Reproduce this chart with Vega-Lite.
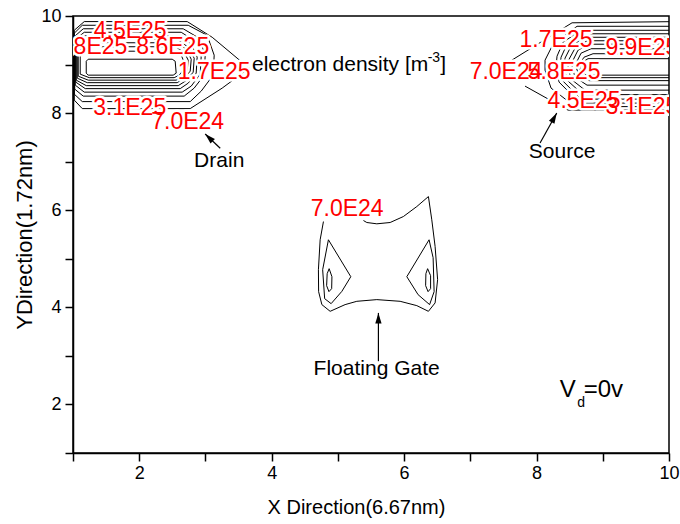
{
  "$schema": "https://vega.github.io/schema/vega-lite/v6.json",
  "width": 596,
  "height": 437,
  "autosize": {"type": "none"},
  "padding": {"left": 73, "top": 16, "right": 11, "bottom": 71},
  "background": "white",
  "config": {
    "font": "Liberation Sans",
    "view": {"stroke": "black", "strokeWidth": 1.5},
    "axis": {"labelFont": "Liberation Sans", "titleFont": "Liberation Sans", "domainColor": "black", "tickColor": "black", "labelColor": "black", "titleColor": "black", "grid": false, "domainWidth": 1.5, "tickWidth": 1.5, "tickSize": 8, "titleFontWeight": "normal"}
  },
  "datasets": {
    "contours": [
      {"c":"D1","o":0,"x":1.019,"y":9.706},{"c":"D1","o":1,"x":1.170,"y":9.885},{"c":"D1","o":2,"x":2.725,"y":9.885},{"c":"D1","o":3,"x":3.102,"y":9.562},{"c":"D1","o":4,"x":3.660,"y":8.925},{"c":"D1","o":5,"x":3.253,"y":8.515},{"c":"D1","o":6,"x":2.770,"y":8.093},{"c":"D1","o":7,"x":1.140,"y":8.093},{"c":"D1","o":8,"x":1.019,"y":8.268},{"c":"D1","o":9,"x":1.019,"y":9.706},
      {"c":"D2","o":0,"x":1.019,"y":9.645},{"c":"D2","o":1,"x":1.140,"y":9.809},{"c":"D2","o":2,"x":2.740,"y":9.809},{"c":"D2","o":3,"x":3.026,"y":9.603},{"c":"D2","o":4,"x":3.132,"y":9.193},{"c":"D2","o":5,"x":3.117,"y":8.782},{"c":"D2","o":6,"x":2.936,"y":8.453},{"c":"D2","o":7,"x":2.770,"y":8.237},{"c":"D2","o":8,"x":1.140,"y":8.237},{"c":"D2","o":9,"x":1.019,"y":8.391},{"c":"D2","o":10,"x":1.019,"y":9.645},
      {"c":"D3","o":0,"x":1.026,"y":9.583},{"c":"D3","o":1,"x":1.155,"y":9.737},{"c":"D3","o":2,"x":2.664,"y":9.737},{"c":"D3","o":3,"x":2.906,"y":9.542},{"c":"D3","o":4,"x":2.996,"y":9.193},{"c":"D3","o":5,"x":2.981,"y":8.782},{"c":"D3","o":6,"x":2.830,"y":8.515},{"c":"D3","o":7,"x":2.679,"y":8.350},{"c":"D3","o":8,"x":1.155,"y":8.350},{"c":"D3","o":9,"x":1.026,"y":8.494},{"c":"D3","o":10,"x":1.026,"y":9.583},
      {"c":"D4","o":0,"x":1.034,"y":9.521},{"c":"D4","o":1,"x":1.170,"y":9.665},{"c":"D4","o":2,"x":2.634,"y":9.665},{"c":"D4","o":3,"x":2.845,"y":9.480},{"c":"D4","o":4,"x":2.936,"y":9.172},{"c":"D4","o":5,"x":2.921,"y":8.802},{"c":"D4","o":6,"x":2.785,"y":8.556},{"c":"D4","o":7,"x":2.649,"y":8.432},{"c":"D4","o":8,"x":1.170,"y":8.432},{"c":"D4","o":9,"x":1.034,"y":8.576},{"c":"D4","o":10,"x":1.034,"y":9.521},
      {"c":"D5","o":0,"x":1.042,"y":9.460},{"c":"D5","o":1,"x":1.185,"y":9.593},{"c":"D5","o":2,"x":2.604,"y":9.593},{"c":"D5","o":3,"x":2.785,"y":9.419},{"c":"D5","o":4,"x":2.875,"y":9.151},{"c":"D5","o":5,"x":2.860,"y":8.823},{"c":"D5","o":6,"x":2.740,"y":8.617},{"c":"D5","o":7,"x":2.619,"y":8.504},{"c":"D5","o":8,"x":1.185,"y":8.504},{"c":"D5","o":9,"x":1.042,"y":8.638},{"c":"D5","o":10,"x":1.042,"y":9.460},
      {"c":"D6","o":0,"x":1.049,"y":9.398},{"c":"D6","o":1,"x":1.200,"y":9.521},{"c":"D6","o":2,"x":2.574,"y":9.521},{"c":"D6","o":3,"x":2.740,"y":9.357},{"c":"D6","o":4,"x":2.830,"y":9.131},{"c":"D6","o":5,"x":2.815,"y":8.843},{"c":"D6","o":6,"x":2.709,"y":8.669},{"c":"D6","o":7,"x":2.589,"y":8.566},{"c":"D6","o":8,"x":1.200,"y":8.566},{"c":"D6","o":9,"x":1.049,"y":8.679},{"c":"D6","o":10,"x":1.049,"y":9.398},
      {"c":"D7","o":0,"x":1.064,"y":9.336},{"c":"D7","o":1,"x":1.215,"y":9.449},{"c":"D7","o":2,"x":2.558,"y":9.449},{"c":"D7","o":3,"x":2.709,"y":9.316},{"c":"D7","o":4,"x":2.785,"y":9.110},{"c":"D7","o":5,"x":2.770,"y":8.864},{"c":"D7","o":6,"x":2.679,"y":8.720},{"c":"D7","o":7,"x":2.574,"y":8.627},{"c":"D7","o":8,"x":1.215,"y":8.627},{"c":"D7","o":9,"x":1.064,"y":8.720},{"c":"D7","o":10,"x":1.064,"y":9.336},
      {"c":"D8","o":0,"x":1.079,"y":9.275},{"c":"D8","o":1,"x":1.230,"y":9.367},{"c":"D8","o":2,"x":2.543,"y":9.367},{"c":"D8","o":3,"x":2.679,"y":9.254},{"c":"D8","o":4,"x":2.740,"y":9.090},{"c":"D8","o":5,"x":2.725,"y":8.884},{"c":"D8","o":6,"x":2.649,"y":8.761},{"c":"D8","o":7,"x":2.558,"y":8.679},{"c":"D8","o":8,"x":1.230,"y":8.679},{"c":"D8","o":9,"x":1.079,"y":8.761},{"c":"D8","o":10,"x":1.079,"y":9.275},
      {"c":"D9","o":0,"x":1.109,"y":9.193},{"c":"D9","o":1,"x":1.245,"y":9.275},{"c":"D9","o":2,"x":2.528,"y":9.275},{"c":"D9","o":3,"x":2.634,"y":9.193},{"c":"D9","o":4,"x":2.679,"y":9.049},{"c":"D9","o":5,"x":2.664,"y":8.884},{"c":"D9","o":6,"x":2.604,"y":8.782},{"c":"D9","o":7,"x":2.528,"y":8.730},{"c":"D9","o":8,"x":1.245,"y":8.730},{"c":"D9","o":9,"x":1.109,"y":8.802},{"c":"D9","o":10,"x":1.109,"y":9.193},
      {"c":"D10","o":0,"x":1.200,"y":9.069},{"c":"D10","o":1,"x":1.230,"y":9.110},{"c":"D10","o":2,"x":2.498,"y":9.110},{"c":"D10","o":3,"x":2.543,"y":9.069},{"c":"D10","o":4,"x":2.558,"y":8.823},{"c":"D10","o":5,"x":2.513,"y":8.782},{"c":"D10","o":6,"x":1.230,"y":8.782},{"c":"D10","o":7,"x":1.200,"y":8.823},{"c":"D10","o":8,"x":1.200,"y":9.069},
      {"c":"S1a","o":0,"x":10,"y":9.883},{"c":"S1a","o":1,"x":8.536,"y":9.860},{"c":"S1a","o":2,"x":7.626,"y":9.090},
      {"c":"S1b","o":0,"x":7.826,"y":8.556},{"c":"S1b","o":1,"x":8.475,"y":8.062},{"c":"S1b","o":2,"x":10,"y":8.062},
      {"c":"S2","o":0,"x":10,"y":9.788},{"c":"S2","o":1,"x":8.611,"y":9.788},{"c":"S2","o":2,"x":8.249,"y":9.419},{"c":"S2","o":3,"x":8.128,"y":9.090},{"c":"S2","o":4,"x":8.128,"y":8.884},{"c":"S2","o":5,"x":8.219,"y":8.515},{"c":"S2","o":6,"x":8.581,"y":8.134},{"c":"S2","o":7,"x":10,"y":8.134},
      {"c":"S3","o":0,"x":10,"y":9.706},{"c":"S3","o":1,"x":8.672,"y":9.706},{"c":"S3","o":2,"x":8.400,"y":9.460},{"c":"S3","o":3,"x":8.309,"y":9.172},{"c":"S3","o":4,"x":8.294,"y":8.946},{"c":"S3","o":5,"x":8.340,"y":8.638},{"c":"S3","o":6,"x":8.657,"y":8.206},{"c":"S3","o":7,"x":10,"y":8.206},
      {"c":"S4","o":0,"x":10,"y":9.634},{"c":"S4","o":1,"x":8.702,"y":9.634},{"c":"S4","o":2,"x":8.460,"y":9.419},{"c":"S4","o":3,"x":8.370,"y":9.151},{"c":"S4","o":4,"x":8.355,"y":8.946},{"c":"S4","o":5,"x":8.400,"y":8.658},{"c":"S4","o":6,"x":8.672,"y":8.288},{"c":"S4","o":7,"x":10,"y":8.288},
      {"c":"S5","o":0,"x":10,"y":9.562},{"c":"S5","o":1,"x":8.732,"y":9.562},{"c":"S5","o":2,"x":8.521,"y":9.378},{"c":"S5","o":3,"x":8.430,"y":9.131},{"c":"S5","o":4,"x":8.415,"y":8.946},{"c":"S5","o":5,"x":8.460,"y":8.679},{"c":"S5","o":6,"x":8.702,"y":8.381},{"c":"S5","o":7,"x":10,"y":8.381},
      {"c":"S6","o":0,"x":10,"y":9.490},{"c":"S6","o":1,"x":8.762,"y":9.490},{"c":"S6","o":2,"x":8.581,"y":9.336},{"c":"S6","o":3,"x":8.491,"y":9.110},{"c":"S6","o":4,"x":8.475,"y":8.946},{"c":"S6","o":5,"x":8.521,"y":8.699},{"c":"S6","o":6,"x":8.732,"y":8.473},{"c":"S6","o":7,"x":10,"y":8.473},
      {"c":"S7","o":0,"x":10,"y":9.419},{"c":"S7","o":1,"x":8.792,"y":9.419},{"c":"S7","o":2,"x":8.626,"y":9.295},{"c":"S7","o":3,"x":8.551,"y":9.090},{"c":"S7","o":4,"x":8.536,"y":8.946},{"c":"S7","o":5,"x":8.581,"y":8.741},{"c":"S7","o":6,"x":8.762,"y":8.576},{"c":"S7","o":7,"x":10,"y":8.576},
      {"c":"S8","o":0,"x":10,"y":9.326},{"c":"S8","o":1,"x":8.823,"y":9.326},{"c":"S8","o":2,"x":8.672,"y":9.234},{"c":"S8","o":3,"x":8.611,"y":9.069},{"c":"S8","o":4,"x":8.596,"y":8.946},{"c":"S8","o":5,"x":8.642,"y":8.782},{"c":"S8","o":6,"x":8.792,"y":8.669},{"c":"S8","o":7,"x":10,"y":8.669},
      {"c":"S9","o":0,"x":10,"y":9.223},{"c":"S9","o":1,"x":8.853,"y":9.223},{"c":"S9","o":2,"x":8.717,"y":9.151},{"c":"S9","o":3,"x":8.657,"y":9.028},{"c":"S9","o":4,"x":8.657,"y":8.864},{"c":"S9","o":5,"x":8.717,"y":8.771},{"c":"S9","o":6,"x":8.838,"y":8.730},{"c":"S9","o":7,"x":10,"y":8.730},
      {"c":"S10","o":0,"x":10,"y":9.121},{"c":"S10","o":1,"x":8.777,"y":9.121},{"c":"S10","o":2,"x":8.717,"y":9.069},{"c":"S10","o":3,"x":8.702,"y":8.967},{"c":"S10","o":4,"x":8.702,"y":8.843},{"c":"S10","o":5,"x":8.747,"y":8.782},{"c":"S10","o":6,"x":10,"y":8.782},
      {"c":"G0","o":0,"x":4.782,"y":5.767},{"c":"G0","o":1,"x":4.732,"y":5.391},{"c":"G0","o":2,"x":4.706,"y":4.775},{"c":"G0","o":3,"x":4.709,"y":4.323},{"c":"G0","o":4,"x":4.758,"y":4.056},{"c":"G0","o":5,"x":4.883,"y":3.918},{"c":"G0","o":6,"x":5.109,"y":4.056},{"c":"G0","o":7,"x":5.286,"y":4.124},{"c":"G0","o":8,"x":5.588,"y":4.159},{"c":"G0","o":9,"x":5.940,"y":4.124},{"c":"G0","o":10,"x":6.192,"y":4.035},{"c":"G0","o":11,"x":6.367,"y":3.918},{"c":"G0","o":12,"x":6.468,"y":4.091},{"c":"G0","o":13,"x":6.506,"y":4.570},{"c":"G0","o":14,"x":6.468,"y":5.254},{"c":"G0","o":15,"x":6.418,"y":5.802},{"c":"G0","o":16,"x":6.367,"y":6.281},{"c":"G0","o":17,"x":6.192,"y":6.076},{"c":"G0","o":18,"x":5.989,"y":5.870},{"c":"G0","o":19,"x":5.789,"y":5.747},{"c":"G0","o":20,"x":5.588,"y":5.720},{"c":"G0","o":21,"x":5.437,"y":5.747},{"c":"G0","o":22,"x":5.386,"y":5.788},
      {"c":"GL1","o":0,"x":4.857,"y":5.391},{"c":"GL1","o":1,"x":5.195,"y":4.631},{"c":"GL1","o":2,"x":5.060,"y":4.329},{"c":"GL1","o":3,"x":4.898,"y":4.076},{"c":"GL1","o":4,"x":4.800,"y":4.179},{"c":"GL1","o":5,"x":4.770,"y":4.775},{"c":"GL1","o":6,"x":4.857,"y":5.391},
      {"c":"GL2","o":0,"x":4.868,"y":4.796},{"c":"GL2","o":1,"x":4.910,"y":4.631},{"c":"GL2","o":2,"x":4.906,"y":4.385},{"c":"GL2","o":3,"x":4.865,"y":4.323},{"c":"GL2","o":4,"x":4.830,"y":4.446},{"c":"GL2","o":5,"x":4.838,"y":4.693},{"c":"GL2","o":6,"x":4.868,"y":4.796},
      {"c":"GR1","o":0,"x":6.377,"y":5.391},{"c":"GR1","o":1,"x":6.041,"y":4.631},{"c":"GR1","o":2,"x":6.211,"y":4.261},{"c":"GR1","o":3,"x":6.385,"y":4.056},{"c":"GR1","o":4,"x":6.453,"y":4.323},{"c":"GR1","o":5,"x":6.438,"y":5.022},{"c":"GR1","o":6,"x":6.377,"y":5.391},
      {"c":"GR2","o":0,"x":6.355,"y":4.796},{"c":"GR2","o":1,"x":6.400,"y":4.652},{"c":"GR2","o":2,"x":6.400,"y":4.385},{"c":"GR2","o":3,"x":6.362,"y":4.323},{"c":"GR2","o":4,"x":6.325,"y":4.446},{"c":"GR2","o":5,"x":6.329,"y":4.693},{"c":"GR2","o":6,"x":6.355,"y":4.796}
    ],
    "levels": [
      {"t":"4.5E25","x":1.864,"y":9.686},
      {"t":"5.8E25","x":1.270,"y":9.367},
      {"t":"8.6E25","x":2.506,"y":9.367},
      {"t":"1.7E25","x":3.132,"y":8.843},
      {"t":"3.1E25","x":1.857,"y":8.114},
      {"t":"7.0E24","x":2.732,"y":7.826},
      {"t":"1.7E25","x":8.294,"y":9.501},
      {"t":"9.9E25","x":9.590,"y":9.336},
      {"t":"7.0E24","x":7.540,"y":8.843},
      {"t":"5.8E25","x":8.415,"y":8.843},
      {"t":"4.5E25","x":8.717,"y":8.247},
      {"t":"3.1E25","x":9.590,"y":8.124},
      {"t":"7.0E24","x":5.140,"y":6.034}
    ],
    "notes": [
      {"t":"electron density [m","x":5.034,"y":8.987},
      {"t":"]","x":6.589,"y":8.987},
      {"t":"Drain","x":3.208,"y":7.015},
      {"t":"Source","x":8.385,"y":7.200},
      {"t":"Floating Gate","x":5.585,"y":2.720}
    ],
    "bignotes": [
      {"t":"V","x":8.470,"y":2.289},
      {"t":"=0v","x":9.010,"y":2.289}
    ],
    "smallnotes": [
      {"t":"-3","x":6.450,"y":9.131},
      {"t":"d","x":8.672,"y":2.030}
    ],
    "arrows": [
      {"n":"drain","x":3.223,"y":7.276,"x2":2.996,"y2":7.569},
      {"n":"source","x":8.053,"y":7.384,"x2":8.305,"y2":8.001},
      {"n":"gate","x":5.612,"y":2.891,"x2":5.612,"y2":3.885}
    ]
  },
  "encoding": {
    "x": {"field": "x", "type": "quantitative", "scale": {"domain": [1, 10], "nice": false, "zero": false},
      "axis": {"title": "X Direction(6.67nm)", "values": [1,2,3,4,5,6,7,8,9,10], "labelExpr": "datum.value % 2 === 0 ? datum.label : ''", "labelFontSize": 18, "titleFontSize": 20, "titleX": 283, "labelPadding": 3, "titlePadding": 15, "labelFlush": false, "labelBound": false, "labelOverlap": false}},
    "y": {"field": "y", "type": "quantitative", "scale": {"domain": [1, 10], "nice": false, "zero": false},
      "axis": {"title": "YDirection(1.72nm)", "values": [1,2,3,4,5,6,7,8,9,10], "labelExpr": "datum.value % 2 === 0 ? datum.label : ''", "labelFontSize": 18, "titleFontSize": 22, "labelPadding": 4, "titlePadding": 4, "labelFlush": false, "labelBound": false, "labelOverlap": false}}
  },
  "layer": [
    {
      "data": {"name": "contours"},
      "mark": {"type": "line", "color": "black", "strokeWidth": 1, "clip": true},
      "encoding": {"detail": {"field": "c"}, "order": {"field": "o", "type": "quantitative"}}
    },
    {
      "data": {"name": "arrows"},
      "mark": {"type": "rule", "color": "black", "strokeWidth": 1.2},
      "encoding": {"x2": {"field": "x2"}, "y2": {"field": "y2"}}
    },
    {
      "data": {"name": "arrows"},
      "transform": [{"filter": "datum.n === 'drain'"}],
      "mark": {"type": "point", "filled": true, "color": "black", "opacity": 1, "size": 110, "angle": -46, "shape": "M0,0L-0.6,2L0.6,2Z"},
      "encoding": {"x": {"field": "x2", "type": "quantitative"}, "y": {"field": "y2", "type": "quantitative"}}
    },
    {
      "data": {"name": "arrows"},
      "transform": [{"filter": "datum.n === 'source'"}],
      "mark": {"type": "point", "filled": true, "color": "black", "opacity": 1, "size": 110, "angle": 29, "shape": "M0,0L-0.6,2L0.6,2Z"},
      "encoding": {"x": {"field": "x2", "type": "quantitative"}, "y": {"field": "y2", "type": "quantitative"}}
    },
    {
      "data": {"name": "arrows"},
      "transform": [{"filter": "datum.n === 'gate'"}],
      "mark": {"type": "point", "filled": true, "color": "black", "opacity": 1, "size": 110, "angle": 0, "shape": "M0,0L-0.6,2L0.6,2Z"},
      "encoding": {"x": {"field": "x2", "type": "quantitative"}, "y": {"field": "y2", "type": "quantitative"}}
    },
    {
      "data": {"name": "levels"},
      "mark": {"type": "text", "font": "Liberation Sans", "fontSize": 23, "align": "center", "baseline": "middle", "fill": "white", "stroke": "white", "strokeWidth": 5, "strokeJoin": "round", "clip": true},
      "encoding": {"text": {"field": "t"}}
    },
    {
      "data": {"name": "levels"},
      "mark": {"type": "text", "font": "Liberation Sans", "fontSize": 23, "align": "center", "baseline": "middle", "color": "#ff0000", "clip": true},
      "encoding": {"text": {"field": "t"}}
    },
    {
      "data": {"name": "notes"},
      "mark": {"type": "text", "font": "Liberation Sans", "fontSize": 21, "align": "center", "baseline": "middle", "color": "black"},
      "encoding": {"text": {"field": "t"}}
    },
    {
      "data": {"name": "bignotes"},
      "mark": {"type": "text", "font": "Liberation Sans", "fontSize": 24, "align": "center", "baseline": "middle", "color": "black"},
      "encoding": {"text": {"field": "t"}}
    },
    {
      "data": {"name": "smallnotes"},
      "mark": {"type": "text", "font": "Liberation Sans", "fontSize": 14, "align": "center", "baseline": "middle", "color": "black"},
      "encoding": {"text": {"field": "t"}}
    }
  ]
}
